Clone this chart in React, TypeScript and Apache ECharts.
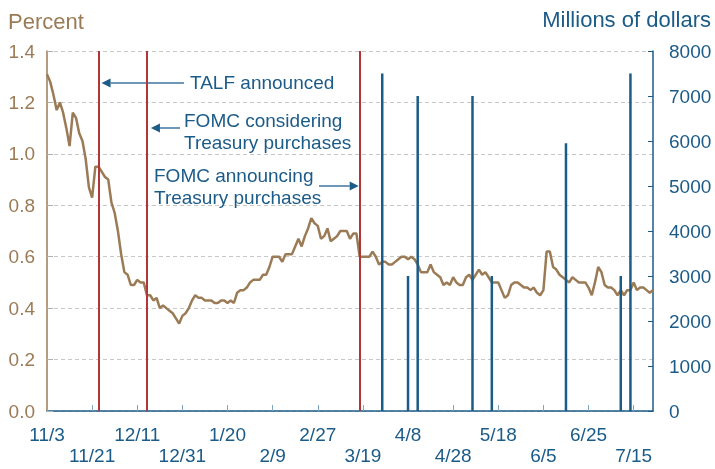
import React, { useEffect, useRef } from 'react';
import * as echarts from 'echarts';

// Business-day categories from 11/3/2008 (weekdays only)
const START_UTC = Date.UTC(2008, 10, 3);
const DAY_COUNT = 189;
function buildCategories(): string[] {
  const out: string[] = [];
  let t = START_UTC;
  while (out.length < DAY_COUNT) {
    const d = new Date(t);
    const wd = d.getUTCDay();
    if (wd !== 0 && wd !== 6) out.push(`${d.getUTCMonth() + 1}/${d.getUTCDate()}`);
    t += 86400000;
  }
  return out;
}
const categories = buildCategories();

// Percent (left axis)
const percentValues = [
  1.31, 1.28, 1.23, 1.17, 1.20, 1.16, 1.10, 1.03, 1.16, 1.14,
  1.08, 1.05, 0.98, 0.87, 0.83, 0.95, 0.95, 0.93, 0.91, 0.90,
  0.81, 0.77, 0.70, 0.61, 0.54, 0.53, 0.49, 0.49, 0.51, 0.50,
  0.50, 0.45, 0.45, 0.43, 0.44, 0.40, 0.41, 0.40, 0.39, 0.38,
  0.36, 0.34, 0.37, 0.38, 0.40, 0.43, 0.45, 0.44, 0.44, 0.43,
  0.43, 0.43, 0.42, 0.42, 0.43, 0.43, 0.42, 0.43, 0.42, 0.46,
  0.47, 0.47, 0.48, 0.50, 0.51, 0.51, 0.51, 0.53, 0.53, 0.56,
  0.60, 0.60, 0.60, 0.58, 0.61, 0.61, 0.61, 0.64, 0.67, 0.64,
  0.68, 0.71, 0.75, 0.73, 0.72, 0.67, 0.68, 0.71, 0.66, 0.67,
  0.68, 0.70, 0.70, 0.70, 0.67, 0.69, 0.69, 0.60, 0.60, 0.60,
  0.60, 0.62, 0.60, 0.57, 0.58, 0.58, 0.57, 0.57, 0.58, 0.59,
  0.60, 0.60, 0.59, 0.60, 0.59, 0.57, 0.54, 0.54, 0.54, 0.57,
  0.54, 0.53, 0.52, 0.49, 0.50, 0.49, 0.52, 0.50, 0.49, 0.49,
  0.52, 0.53, 0.51, 0.53, 0.55, 0.53, 0.54, 0.52, 0.50, 0.50,
  0.50, 0.47, 0.44, 0.45, 0.49, 0.50, 0.50, 0.49, 0.48, 0.48,
  0.47, 0.48, 0.46, 0.45, 0.47, 0.62, 0.62, 0.56, 0.55, 0.53,
  0.52, 0.51, 0.50, 0.52, 0.51, 0.50, 0.50, 0.50, 0.48, 0.45,
  0.50, 0.56, 0.54, 0.49, 0.48, 0.48, 0.47, 0.45, 0.47, 0.45,
  0.47, 0.47, 0.50, 0.47, 0.48, 0.48, 0.47, 0.46, 0.47,
];

// Millions of dollars (right axis)
const purchaseDates = ['3/27', '4/8', '4/13', '5/6', '5/14', '6/16', '7/9', '7/14'];
const purchaseValues = [7500, 3000, 7000, 7000, 3000, 5950, 3000, 7500];

// Event lines
const eventDates = ['11/25', '12/16', '3/18'];

const leftTicks = { min: 0, max: 1.4, interval: 0.2 };
const rightTicks = { min: 0, max: 8000, interval: 1000 };

const BROWN = '#9b7b56';
const BLUE = '#1b5b88';
const RED = '#b23537';
const FONT = '"Liberation Sans", Arial, sans-serif';

export default function App() {
  const ref = useRef<HTMLDivElement>(null);
  useEffect(() => {
    const chart = echarts.init(ref.current!, null, { renderer: 'svg' });
    chart.setOption({
      animation: false,
      textStyle: { fontFamily: FONT },
      grid: { left: 47, right: 62, top: 51, bottom: 58, containLabel: false },
      xAxis: {
        type: 'category',
        data: categories,
        boundaryGap: false,
        axisLine: { lineStyle: { color: BLUE, width: 1.5 } },
        axisTick: { inside: true, length: 6, interval: 13, lineStyle: { color: '#7ea6c6', width: 1 } },
        axisLabel: {
          interval: 13,
          color: BLUE,
          fontSize: 19,
          fontFamily: FONT,
          margin: 13,
          lineHeight: 21,
          formatter: (v: string, i: number) => ((i / 14) % 2 === 1 ? '\n' + v : v),
        },
        splitLine: { show: false },
      },
      yAxis: [
        {
          type: 'value',
          ...leftTicks,
          position: 'left',
          axisLine: { show: true, lineStyle: { color: BROWN, width: 1.5 } },
          axisTick: { show: true, inside: true, length: 6, lineStyle: { color: '#b0b0b0' } },
          axisLabel: { color: BROWN, fontSize: 19, margin: 12, fontFamily: FONT, formatter: (v: number) => v.toFixed(1) },
          splitLine: { show: true, lineStyle: { color: '#c8c8c8', type: [4, 3], width: 1 } },
        },
        {
          type: 'value',
          ...rightTicks,
          position: 'right',
          axisLine: { show: true, lineStyle: { color: BLUE, width: 1.5 } },
          axisTick: { show: true, inside: true, length: 5, lineStyle: { color: BLUE } },
          axisLabel: { color: BLUE, fontSize: 19, margin: 16, fontFamily: FONT, formatter: (v: number) => String(v) },
          splitLine: { show: false },
        },
      ],
      series: [
        {
          type: 'line',
          data: percentValues,
          yAxisIndex: 0,
          showSymbol: false,
          symbol: 'none',
          lineStyle: { color: BROWN, width: 2.5 },
          z: 2,
          markLine: {
            silent: true,
            symbol: 'none',
            label: { show: false },
            lineStyle: { color: RED, width: 2, type: 'solid' },
            data: eventDates.map((d) => ({ xAxis: d })),
            z: 3,
          },
        },
        {
          type: 'bar',
          yAxisIndex: 1,
          data: purchaseDates.map((d, i) => [d, purchaseValues[i]]),
          barWidth: 2.5,
          itemStyle: { color: BLUE },
          z: 4,
        },
      ],
    });

    const xOf = (d: string) => chart.convertToPixel({ xAxisIndex: 0 }, d) as number;
    const arrow = (xFrom: number, xTip: number, y: number) => {
      const dir = xTip > xFrom ? 1 : -1;
      const headLen = 9;
      return [
        { type: 'line', shape: { x1: xFrom, y1: y, x2: xTip - dir * headLen, y2: y }, style: { stroke: '#3f74a0', lineWidth: 1.5 } },
        {
          type: 'polygon',
          shape: { points: [[xTip, y], [xTip - dir * headLen, y - 4.5], [xTip - dir * headLen, y + 4.5]] },
          style: { fill: BLUE },
        },
      ];
    };
    const text = (x: number, y: number, t: string, color: string, size: number, align = 'left') => ({
      type: 'text',
      x,
      y,
      style: { text: t, fill: color, font: `${size}px ${FONT}`, align, verticalAlign: 'middle' },
    });
    const x1 = xOf(eventDates[0]);
    const x2 = xOf(eventDates[1]);
    const x3 = xOf(eventDates[2]);
    chart.setOption({
      graphic: [
        text(8, 21, 'Percent', BROWN, 22),
        text(711, 19, 'Millions of dollars', BLUE, 22, 'right'),
        ...arrow(184, x1 + 3, 83),
        text(190, 82, 'TALF announced', BLUE, 19),
        ...arrow(180, x2 + 4, 128),
        text(184, 120, 'FOMC considering', BLUE, 19),
        text(184, 142, 'Treasury purchases', BLUE, 19),
        ...arrow(319, x3 - 1, 186),
        text(154, 175, 'FOMC announcing', BLUE, 19),
        text(154, 197, 'Treasury purchases', BLUE, 19),
      ],
    });
    return () => chart.dispose();
  }, []);
  return <div ref={ref} style={{ position: 'fixed', left: 0, top: 0, width: 715, height: 469 }} />;
}
